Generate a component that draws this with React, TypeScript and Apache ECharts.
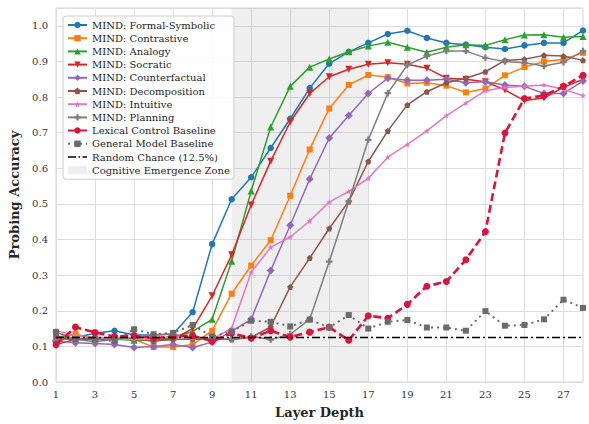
import React, { useEffect, useRef } from "react";
import * as echarts from "echarts";

const layers = Array.from({ length: 28 }, (_, i) => String(i + 1));

const formalSymbolic = [0.118, 0.125, 0.137, 0.144, 0.132, 0.132, 0.135, 0.196, 0.387, 0.513, 0.575, 0.657, 0.739, 0.825, 0.894, 0.927, 0.952, 0.977, 0.986, 0.966, 0.952, 0.947, 0.94, 0.935, 0.945, 0.952, 0.952, 0.987];
const contrastive = [0.12, 0.135, 0.12, 0.125, 0.12, 0.098, 0.098, 0.105, 0.144, 0.248, 0.327, 0.398, 0.523, 0.653, 0.768, 0.834, 0.862, 0.856, 0.838, 0.84, 0.832, 0.813, 0.824, 0.861, 0.884, 0.9, 0.906, 0.924];
const analogy = [0.12, 0.12, 0.125, 0.12, 0.117, 0.118, 0.125, 0.142, 0.176, 0.339, 0.536, 0.716, 0.83, 0.884, 0.907, 0.927, 0.943, 0.954, 0.94, 0.926, 0.94, 0.947, 0.945, 0.961, 0.974, 0.975, 0.968, 0.97];
const socratic = [0.105, 0.12, 0.12, 0.12, 0.122, 0.115, 0.12, 0.15, 0.242, 0.357, 0.497, 0.62, 0.73, 0.81, 0.857, 0.878, 0.892, 0.896, 0.892, 0.881, 0.853, 0.85, 0.843, 0.82, 0.79, 0.797, 0.827, 0.85];
const counterfactual = [0.115, 0.11, 0.108, 0.105, 0.097, 0.1, 0.105, 0.097, 0.112, 0.142, 0.176, 0.313, 0.44, 0.57, 0.685, 0.748, 0.81, 0.853, 0.847, 0.847, 0.85, 0.84, 0.843, 0.834, 0.83, 0.81, 0.81, 0.845];
const decomposition = [0.13, 0.12, 0.12, 0.12, 0.12, 0.115, 0.12, 0.12, 0.12, 0.119, 0.125, 0.155, 0.267, 0.348, 0.431, 0.507, 0.619, 0.705, 0.778, 0.815, 0.84, 0.853, 0.871, 0.903, 0.906, 0.917, 0.915, 0.903];
const intuitive = [0.145, 0.13, 0.125, 0.12, 0.12, 0.12, 0.13, 0.125, 0.12, 0.151, 0.308, 0.378, 0.407, 0.452, 0.505, 0.535, 0.572, 0.631, 0.667, 0.705, 0.748, 0.783, 0.818, 0.827, 0.83, 0.834, 0.822, 0.804];
const planning = [0.14, 0.12, 0.113, 0.12, 0.125, 0.132, 0.135, 0.122, 0.122, 0.12, 0.128, 0.119, 0.134, 0.176, 0.338, 0.507, 0.68, 0.811, 0.89, 0.915, 0.929, 0.929, 0.91, 0.9, 0.896, 0.887, 0.898, 0.929];
const lexicalControl = [0.105, 0.154, 0.139, 0.128, 0.13, 0.123, 0.128, 0.13, 0.114, 0.137, 0.123, 0.144, 0.126, 0.14, 0.154, 0.117, 0.186, 0.179, 0.218, 0.269, 0.282, 0.343, 0.422, 0.699, 0.796, 0.804, 0.83, 0.861];
const generalBaseline = [0.14, 0.12, 0.12, 0.115, 0.148, 0.134, 0.138, 0.16, 0.128, 0.142, 0.172, 0.169, 0.156, 0.175, 0.153, 0.188, 0.15, 0.169, 0.174, 0.153, 0.153, 0.144, 0.199, 0.158, 0.16, 0.176, 0.231, 0.208];
const randomChance = 0.125;
const emergenceZone = ["10", "17"];

const FONT = "DejaVu Serif";

const PENTAGON = "path://M0,-10 L9.51,-3.09 L5.88,8.09 L-5.88,8.09 L-9.51,-3.09 Z";
const STAR = "path://M0,-10 L2.35,-3.24 L9.51,-3.09 L3.8,1.24 L5.88,8.09 L0,4 L-5.88,8.09 L-3.8,1.24 L-9.51,-3.09 L-2.35,-3.24 Z";
const PLUS = "path://M-3.5,-10 H3.5 V-3.5 H10 V3.5 H3.5 V10 H-3.5 V3.5 H-10 V-3.5 H-3.5 Z";
const DASHDOT_ICON = "path://M0,0 L0.01,0 L0.01,0.01 Z M0,8 L0.01,8 L0.01,7.99 Z M0,3.25 H8 V4.75 H0 Z M10.5,3.25 H12 V4.75 H10.5 Z M14.5,3.25 H19 V4.75 H14.5 Z";

type Def = { name: string; data: number[]; color: string; symbol: string; size: number; rotate?: number };

const mindDefs: Def[] = [
  { name: "MIND: Formal-Symbolic", data: formalSymbolic, color: "#1f77b4", symbol: "circle", size: 6.5 },
  { name: "MIND: Contrastive", data: contrastive, color: "#ff7f0e", symbol: "rect", size: 6 },
  { name: "MIND: Analogy", data: analogy, color: "#2ca02c", symbol: "triangle", size: 7 },
  { name: "MIND: Socratic", data: socratic, color: "#d62728", symbol: "triangle", size: 7, rotate: 180 },
  { name: "MIND: Counterfactual", data: counterfactual, color: "#9467bd", symbol: "diamond", size: 8 },
  { name: "MIND: Decomposition", data: decomposition, color: "#8c564b", symbol: PENTAGON, size: 6 },
  { name: "MIND: Intuitive", data: intuitive, color: "#e377c2", symbol: STAR, size: 6 },
  { name: "MIND: Planning", data: planning, color: "#7f7f7f", symbol: PLUS, size: 6.5 },
];

export default function App() {
  const ref = useRef<HTMLDivElement>(null);
  useEffect(() => {
    if (!ref.current) return;
    const chart = echarts.init(ref.current, undefined, { renderer: "svg" });
    const series: any[] = mindDefs.map((d, i) => ({
      type: "line",
      name: d.name,
      data: d.data,
      color: d.color,
      symbol: d.symbol,
      symbolSize: d.size,
      symbolRotate: d.rotate || 0,
      showAllSymbol: true,
      lineStyle: { width: 1.5, color: d.color },
      itemStyle: { color: d.color, borderWidth: 0 },
      z: 3 + i * 0.01,
      ...(i === 0
        ? {
            markArea: {
              silent: true,
              itemStyle: { color: "rgba(128,128,128,0.13)" },
              data: [[{ xAxis: emergenceZone[0] }, { xAxis: emergenceZone[1] }]],
            },
          }
        : {}),
    }));
    series.push({
      type: "line",
      name: "Lexical Control Baseline",
      data: lexicalControl,
      color: "#dc143c",
      symbol: "circle",
      symbolSize: 7,
      showAllSymbol: true,
      lineStyle: { width: 2.6, color: "#dc143c", type: [8, 4] },
      itemStyle: { color: "#dc143c", borderWidth: 0 },
      z: 4,
    });
    series.push({
      type: "line",
      name: "General Model Baseline",
      data: generalBaseline,
      color: "#6b6b6b",
      symbol: "rect",
      symbolSize: 6,
      showAllSymbol: true,
      lineStyle: { width: 2, color: "#6b6b6b", type: [2, 4] },
      itemStyle: { color: "#6b6b6b", borderWidth: 0 },
      z: 4,
    });
    series.push({
      type: "line",
      name: "Random Chance (12.5%)",
      data: layers.map(() => randomChance),
      color: "#000000",
      symbol: "none",
      lineStyle: { width: 1.5, color: "#000000", type: [8, 3, 2, 3] },
      z: 5,
    });
    series.push({
      type: "line",
      name: "Cognitive Emergence Zone",
      data: [],
      color: "#eeeeee",
      symbol: "none",
      lineStyle: { width: 0 },
    });

    const legendData: any[] = [
      ...mindDefs.map((d) => ({ name: d.name })),
      { name: "Lexical Control Baseline" },
      { name: "General Model Baseline" },
      { name: "Random Chance (12.5%)", icon: DASHDOT_ICON, itemStyle: { color: "#000000" } },
      { name: "Cognitive Emergence Zone", icon: "rect", itemStyle: { color: "#eeeeee" } },
    ];

    chart.setOption({
      animation: false,
      backgroundColor: "#ffffff",
      textStyle: { fontFamily: FONT },
      grid: {
        left: 56,
        right: 6,
        top: 8,
        bottom: 38,
        show: true,
        borderColor: "#d4d4d4",
        borderWidth: 1,
      },
      legend: {
        orient: "vertical",
        left: 63,
        top: 16,
        data: legendData,
        itemWidth: 19,
        itemHeight: 8,
        itemGap: 3.2,
        padding: [4, 4, 4, 4],
        backgroundColor: "rgba(255,255,255,0.85)",
        borderColor: "#cccccc",
        borderWidth: 1,
        borderRadius: 3,
        textStyle: { fontFamily: FONT, fontSize: 10, color: "#262626", lineHeight: 10 },
      },
      xAxis: {
        type: "category",
        data: layers,
        boundaryGap: false,
        name: "Layer Depth",
        nameLocation: "middle",
        nameGap: 24,
        nameTextStyle: { fontFamily: FONT, fontSize: 13, fontWeight: "bold", color: "#262626" },
        axisLine: { show: false },
        axisTick: { show: false },
        axisLabel: { interval: 1, fontFamily: FONT, fontSize: 10, color: "#333333", margin: 7 },
        splitLine: { show: true, interval: 1, lineStyle: { color: "#dedede", width: 1 } },
      },
      yAxis: {
        type: "value",
        min: 0,
        max: 1.05,
        interval: 0.1,
        name: "Probing Accuracy",
        nameLocation: "middle",
        nameGap: 30,
        nameTextStyle: { fontFamily: FONT, fontSize: 13, fontWeight: "bold", color: "#262626" },
        axisLine: { show: false },
        axisTick: { show: false },
        axisLabel: {
          fontFamily: FONT,
          fontSize: 10,
          color: "#333333",
          margin: 8,
          formatter: (v: number) => (v > 1.001 ? "" : v.toFixed(1)),
        },
        splitLine: { show: true, lineStyle: { color: "#dedede", width: 1 } },
      },
      series,
    });
    return () => chart.dispose();
  }, []);
  return <div ref={ref} style={{ width: 589, height: 424, position: "absolute", left: 0, top: 0 }} />;
}
